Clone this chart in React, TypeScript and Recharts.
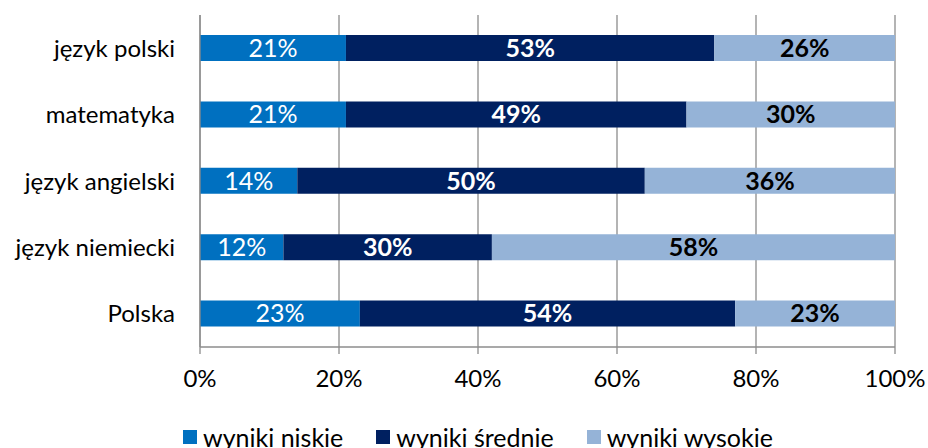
import React from "react";
import { BarChart, Bar, XAxis, YAxis, CartesianGrid, LabelList } from "recharts";

const categories = ["język polski", "matematyka", "język angielski", "język niemiecki", "Polska"];
const niskie = [21, 21, 14, 12, 23];
const srednie = [53, 49, 50, 30, 54];
const wysokie = [26, 30, 36, 58, 23];
const xTicks = [0, 20, 40, 60, 80, 100];
const boundaryTicks = [0, 1, 2, 3, 4, 5];

const seriesNames = ["wyniki niskie", "wyniki średnie", "wyniki wysokie"];
const colors = ["#0070C0", "#002060", "#95B3D7"];

const data = categories.map((c, i) => ({
  name: c,
  niskie: niskie[i],
  srednie: srednie[i],
  wysokie: wysokie[i],
}));

const FONT = "Lato, 'Open Sans', sans-serif";
const pct = (v: any) => `${v}%`;

const LegendBox = () => (
  <div
    style={{
      position: "absolute",
      top: 424,
      left: 0,
      width: 928,
      display: "flex",
      justifyContent: "center",
      fontFamily: FONT,
      fontSize: 25,
      color: "#000",
      paddingLeft: 28,
      boxSizing: "border-box",
      lineHeight: "26px",
    }}
  >
    {seriesNames.map((n, i) => (
      <div key={n} style={{ display: "flex", alignItems: "center", marginRight: i < 2 ? 33 : 0 }}>
        <span style={{ display: "inline-block", width: 14, height: 14, background: colors[i], marginRight: 6 }} />
        <span>{n}</span>
      </div>
    ))}
  </div>
);

export default function App() {
  return (
    <div style={{ position: "fixed", top: 0, left: 0, width: 928, height: 448, overflow: "hidden", background: "#fff" }}>
      <BarChart
        width={928}
        height={448}
        data={data}
        layout="vertical"
        margin={{ top: 15, right: 33, bottom: 51, left: 20 }}
        style={{ fontFamily: FONT }}
      >
        <CartesianGrid horizontal={false} stroke="#8c8c8c" strokeWidth={1.3} />
        <XAxis
          type="number"
          domain={[0, 100]}
          ticks={xTicks}
          tickFormatter={pct}
          axisLine={{ stroke: "#8c8c8c", strokeWidth: 1.3 }}
          tickLine={{ stroke: "#8c8c8c", strokeWidth: 1.3 }}
          tickSize={7}
          tickMargin={16}
          tick={{ fill: "#000", fontSize: 24, fontFamily: FONT }}
          height={50}
          interval={0}
        />
        <YAxis
          yAxisId="bounds"
          type="number"
          domain={[0, 5]}
          ticks={boundaryTicks}
          width={0}
          tick={false}
          axisLine={false}
          tickLine={{ stroke: "#8c8c8c", strokeWidth: 1.3 }}
          tickSize={7}
          allowDataOverflow
        />
        <YAxis
          yAxisId="cat"
          type="category"
          dataKey="name"
          width={180}
          axisLine={{ stroke: "#8c8c8c", strokeWidth: 1.3 }}
          tickLine={false}
          tickSize={7}
          tickMargin={18}
          tick={{ fill: "#000", fontSize: 24, fontFamily: FONT }}
          interval={0}
        />
        <Bar dataKey="niskie" yAxisId="cat" stackId="a" fill={colors[0]} barSize={26} isAnimationActive={false} name={seriesNames[0]}>
          <LabelList dataKey="niskie" position="center" formatter={pct} fill="#fff" fontSize={25} fontFamily={FONT} />
        </Bar>
        <Bar dataKey="srednie" yAxisId="cat" stackId="a" fill={colors[1]} barSize={26} isAnimationActive={false} name={seriesNames[1]}>
          <LabelList dataKey="srednie" position="center" formatter={pct} fill="#fff" fontSize={25} fontWeight="bold" fontFamily={FONT} />
        </Bar>
        <Bar dataKey="wysokie" yAxisId="cat" stackId="a" fill={colors[2]} barSize={26} isAnimationActive={false} name={seriesNames[2]}>
          <LabelList dataKey="wysokie" position="center" formatter={pct} fill="#000" fontSize={25} fontWeight="bold" fontFamily={FONT} />
        </Bar>
      </BarChart>
      <LegendBox />
    </div>
  );
}
